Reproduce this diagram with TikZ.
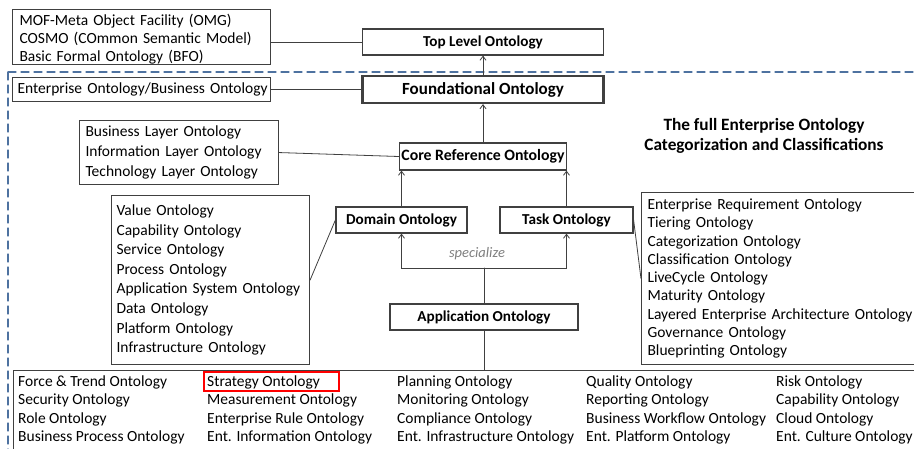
\documentclass[tikz,border=0pt]{standalone}
\usepackage{fontspec}
\setmainfont{Carlito}
\usetikzlibrary{positioning,arrows.meta}

\begin{document}
\begin{tikzpicture}
		[x=1pt,y=-1pt,line cap=round,
		%Styles
		link/.style={draw=linegray,line width=0.8pt},
		tip/.style={-{Straight Barb[length=4pt,width=6pt]}},
		listbox/.style={draw=linegray,line width=1.1pt,align=left,anchor=north west,
			inner xsep=6pt,inner ysep=0pt,font=\fontsize{15.5}{#1}\selectfont},
		listbox/.default=18,
		onto/.style={draw=linegray,line width=1.2pt,font=\bfseries\fontsize{15.2}{17}\selectfont,
			inner sep=0pt,minimum height=26pt},
		cell/.style={align=left,anchor=north west,inner sep=0pt,font=\fontsize{15.5}{18.4}\selectfont}
		]
		
		%Colors
		\definecolor{linegray}{RGB}{64,64,64}
		\definecolor{frameblue}{RGB}{78,114,160}
		
		\clip (0,0) rectangle (914,448);
		\fill[white] (0,0) rectangle (914,448);
		
		%The frame
		\draw[frameblue,line width=1.2pt,dash pattern=on 8pt off 5pt] (8,72) rectangle (940,470);
		
		%The ontology levels
		\node[onto,minimum width=241pt] (top) at (483,42) {Top Level Ontology};
		\node[onto,minimum width=241pt,line width=2.2pt,minimum height=27pt,
			font=\bfseries\fontsize{17}{19}\selectfont] (found) at (483,89.5) {Foundational Ontology};
		\node[onto,minimum width=167pt,minimum height=27pt,font=\bfseries\fontsize{15.8}{17}\selectfont]
			(core) at (483,156.5) {Core Reference Ontology};
		\node[onto,minimum width=131pt] (dom) at (401.5,220) {Domain Ontology};
		\node[onto,minimum width=133pt] (task) at (566.5,220) {Task Ontology};
		\node[onto,minimum width=188pt] (app) at (484,317) {Application Ontology};
		
		\node[font=\bfseries\fontsize{17.3}{19.5}\selectfont,align=center] (title) at (764,136)
			{The full Enterprise Ontology\\Categorization and Classifications};
		
		%The lists
		\node[listbox=18,text width=244pt,minimum height=55pt,inner xsep=7pt] (mof) at (12,9)
			{\rule{0pt}{15pt}MOF-Meta Object Facility (OMG)\\COSMO (COmmon Semantic Model)\\Basic Formal Ontology (BFO)};
		\node[listbox,text width=256pt,minimum height=24pt,inner xsep=1pt] (ent) at (12,77)
			{\hspace{4pt}Enterprise Ontology/Business Ontology};
		\node[listbox=20,text width=187pt,minimum height=64pt] (layer) at (79,120)
			{Business Layer Ontology\\Information Layer Ontology\\Technology Layer Ontology};
		\node[listbox=19.6,text width=188pt,minimum height=169pt,inner xsep=5pt] (domlist) at (111,195)
			{Value Ontology\\Capability Ontology\\Service Ontology\\Process Ontology\\
			Application System Ontology\\Data Ontology\\Platform Ontology\\Infrastructure Ontology};
		\node[listbox=18.25,text width=300pt,minimum height=172pt] (tasklist) at (641,192)
			{Enterprise Requirement Ontology\\Tiering Ontology\\Categorization Ontology\\
			Classification Ontology\\LiveCycle Ontology\\Maturity Ontology\\
			Layered Enterprise Architecture Ontology\\Governance Ontology\\Blueprinting Ontology};
		
		\node[draw=linegray,line width=1.1pt,anchor=north west,minimum width=940pt,minimum height=100pt,
			inner sep=0pt] (all) at (13,370) {};
		\node[cell] (c1) at (18,375.5) {Force \& Trend Ontology\\Security Ontology\\Role Ontology\\Business Process Ontology};
		\node[cell] (c2) at (207,375.5) {Strategy Ontology\\Measurement Ontology\\Enterprise Rule Ontology\\Ent. Information Ontology};
		\node[cell] (c3) at (397,375.5) {Planning Ontology\\Monitoring Ontology\\Compliance Ontology\\Ent. Infrastructure Ontology};
		\node[cell] (c4) at (586,375.5) {Quality Ontology\\Reporting Ontology\\Business Workflow Ontology\\Ent. Platform Ontology};
		\node[cell] (c5) at (776,375.5) {Risk Ontology\\Capability Ontology\\Cloud Ontology\\Ent. Culture Ontology};
		\node[draw=red,line width=1.6pt,anchor=north west,minimum width=135pt,minimum height=19pt,
			inner sep=0pt] (mark) at (203,371) {};
		
		%The connections
		\draw[link,tip] (found) -- (top);
		\draw[link,tip] (core) -- (found);
		\draw[link,tip] (dom.north) -- (dom.north |- core.south);
		\draw[link,tip] (task.north) -- (task.north |- core.south);
		
		\coordinate (spec) at (484,268);
		\draw[link] (app.north) -- (spec);
		\draw[link,tip] (spec) -| (dom.south);
		\draw[link,tip] (spec) -| (task.south);
		\node[font=\itshape\fontsize{14.5}{16}\selectfont,text=gray] (speclabel) at (477,254) {specialize};
		\draw[link] (app.south) -- (app.south |- all.north);
		
		\draw[link] (mof.east |- top.west) -- (top.west);
		\draw[link] (ent.east) -- (found.west);
		\draw[link] (layer.east) -- (core.west);
		\draw[link] (domlist.east) -- (dom.west);
		\draw[link] (task.east) -- (tasklist.west);
	\end{tikzpicture}
\end{document}
